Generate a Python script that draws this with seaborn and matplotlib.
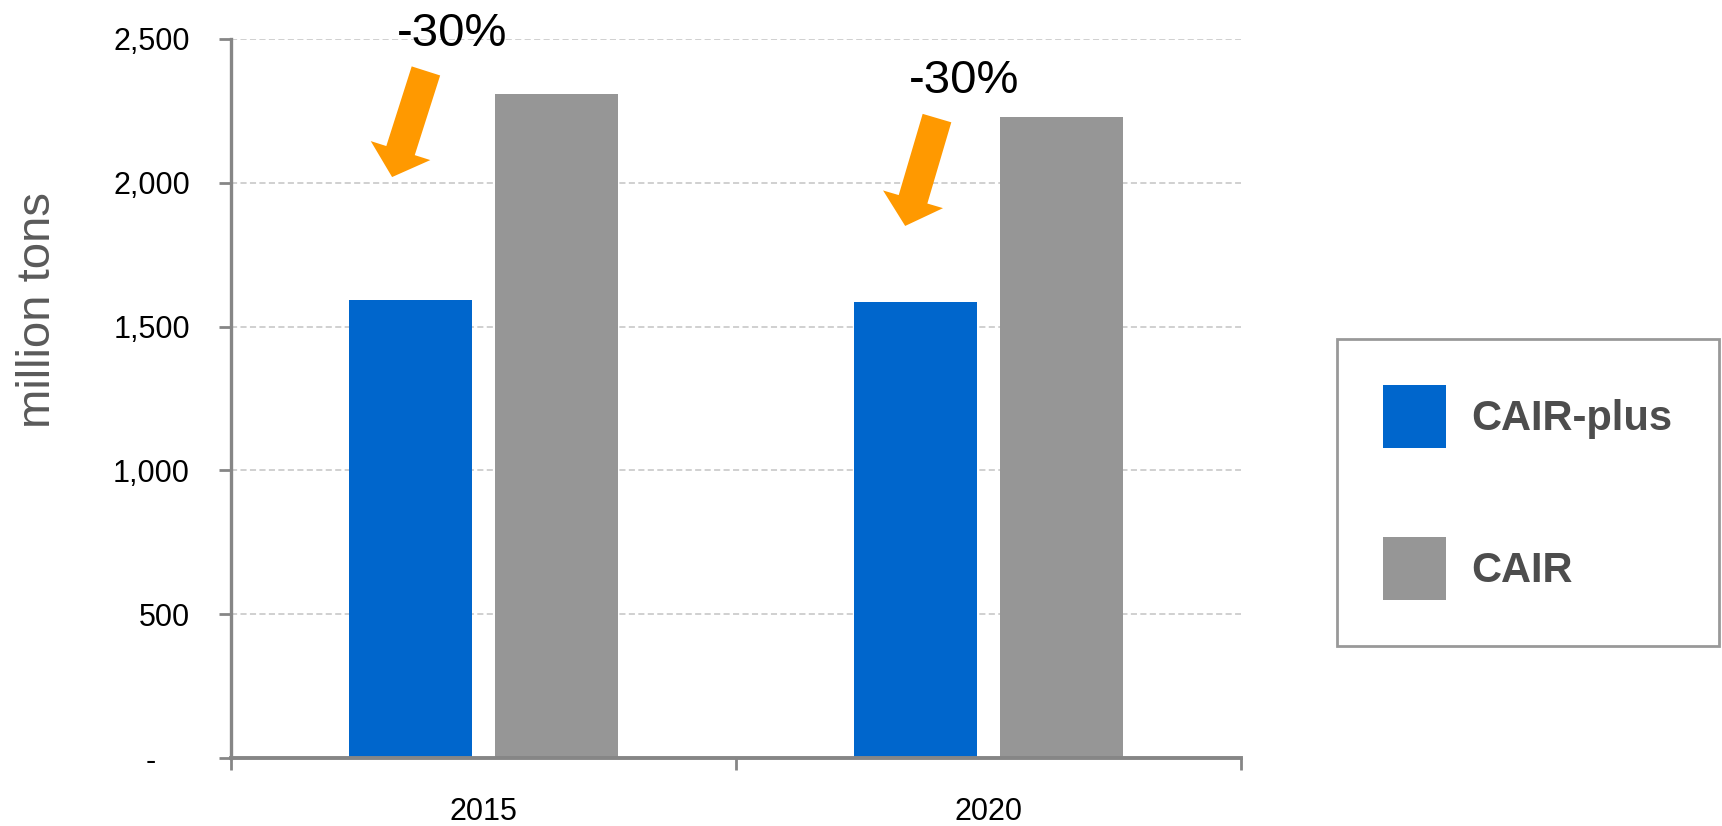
import matplotlib
matplotlib.use("Agg")
import matplotlib.pyplot as plt
import matplotlib.ticker as mticker
from matplotlib.patches import FancyArrowPatch
import numpy as np
import pandas as pd
import seaborn as sns

years = ["2015", "2020"]
scenarios = ["CAIR-plus", "CAIR"]
cair_plus = [1592, 1587]
cair = [2308, 2230]
change_labels = ["-30%", "-30%"]
y_ticks = [0, 500, 1000, 1500, 2000, 2500]

df = pd.DataFrame({
    "year": years * 2,
    "scenario": [scenarios[0]] * len(years) + [scenarios[1]] * len(years),
    "value": cair_plus + cair,
})

sns.set_style("white")
plt.rcParams["font.family"] = ["Liberation Sans", "DejaVu Sans"]

blue = "#0066cc"
grey = "#969696"
orange = "#ff9900"
axis_col = "#868686"

fig = plt.figure(figsize=(17.22, 8.26), dpi=100)
ax = fig.add_axes([231 / 1722, 1 - 758 / 826, 1010 / 1722, 719 / 826])

sns.barplot(data=df, x="year", y="value", hue="scenario", hue_order=scenarios,
            palette={scenarios[0]: blue, scenarios[1]: grey}, width=0.578, gap=0.157,
            saturation=1, linewidth=0, ax=ax)

ax.set_xlim(-0.5, 1.5)
ax.set_ylim(0, 2500)
ax.set_xlabel("")

# y axis
ax.set_yticks(y_ticks)
ax.yaxis.set_major_formatter(mticker.FuncFormatter(
    lambda v, p: "-    " if v == 0 else f"{int(v):,}"))
ax.tick_params(axis="y", which="major", direction="out", length=8.6, width=2,
               color=axis_col, pad=21, labelsize=22, labelcolor="black", left=True)
ax.yaxis.grid(True, color="#c4c4c4", linestyle=(0, (4, 2.2)), linewidth=1.1)
ax.set_axisbelow(True)

# x axis: labels centred, ticks on category borders
ax.set_xticks([0, 1], years)
ax.set_xticks([-0.5, 0.5, 1.5], minor=True)
ax.tick_params(axis="x", which="major", length=0, pad=28, labelsize=22, labelcolor="black")
ax.tick_params(axis="x", which="minor", direction="out", length=8.6, width=2,
               color=axis_col, bottom=True)

for side in ["top", "right"]:
    ax.spines[side].set_visible(False)
ax.spines["left"].set_color(axis_col)
ax.spines["left"].set_linewidth(2.4)
ax.spines["bottom"].set_color(axis_col)
ax.spines["bottom"].set_linewidth(2.8)

ax.set_ylabel("million tons", fontsize=34, color="#5a5a5a")
ax.yaxis.set_label_coords(-0.169, 0.623)

# -30% annotations with block arrows
arrow_tail = [(-0.114, 2389), (0.898, 2225)]
arrow_tip = [(-0.181, 2020), (0.835, 1850)]
text_pos = [(-0.062, 2476), (0.951, 2312)]
for i in range(len(years)):
    arr = FancyArrowPatch(arrow_tail[i], arrow_tip[i],
                          arrowstyle="simple,head_length=20,head_width=45,tail_width=21.5",
                          mutation_scale=1, shrinkA=0, shrinkB=0,
                          color=orange, lw=0, clip_on=False, zorder=5)
    ax.add_patch(arr)
    ax.text(text_pos[i][0], text_pos[i][1], change_labels[i], fontsize=34,
            ha="center", va="baseline", color="black", clip_on=False)

sns.move_legend(ax, loc="upper left", bbox_to_anchor=(1337 / 1722, 1 - 339 / 826),
                bbox_transform=fig.transFigure, title=None, frameon=True,
                fancybox=False, borderaxespad=0, borderpad=1.1, labelspacing=2.15,
                handlelength=1.51, handleheight=1.95, handletextpad=0.62,
                prop={"weight": "bold", "size": 30})
leg = ax.get_legend()
leg.get_frame().set_edgecolor("#808080")
leg.get_frame().set_linewidth(2)
for t in leg.get_texts():
    t.set_color("#4d4d4d")

fig.savefig("out.png", dpi=100)
